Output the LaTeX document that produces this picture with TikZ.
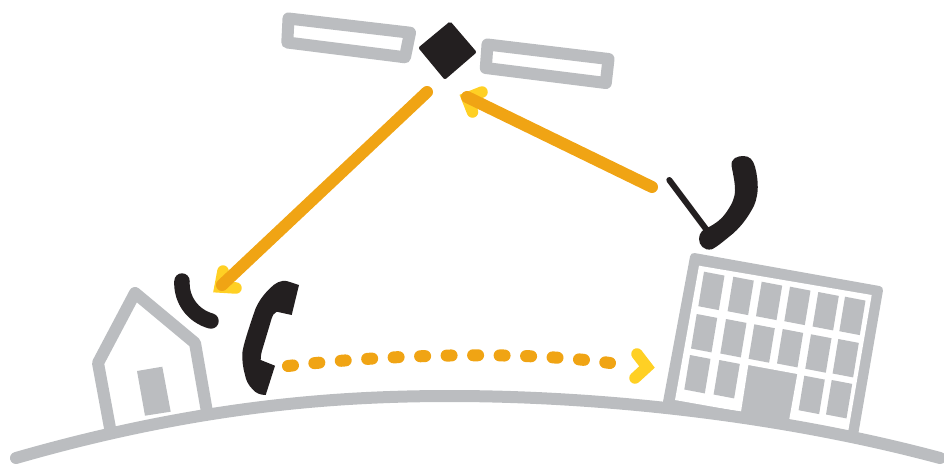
\documentclass[tikz,border=0pt]{standalone}
\usepackage{tikz}

\begin{document}
\begin{tikzpicture}[x=1pt, y=-1pt, line cap=round, line join=round,
		% Styles
		ground line/.style={line width=12pt, draw=greycolor},
		panel/.style={line width=12pt, draw=greycolor, fill=white},
		wave/.style={line width=15.5pt, draw=inkcolor},
		signal/.style={line width=12pt, draw=signalcolor},
		signal head/.style={line width=11.5pt, draw=headcolor, line join=miter},
		window/.style={fill=greycolor}
		]
		
		% Colors
		\definecolor{greycolor}{HTML}{BBBDC0}
		\definecolor{inkcolor}{HTML}{231F20}
		\definecolor{signalcolor}{HTML}{F0A414}
		\definecolor{headcolor}{HTML}{FFD024}
		
		\useasboundingbox (0, 0) rectangle (944, 463);
		
		% Building
		\filldraw[greycolor, line width=8pt] (694, 257) -- (879, 290) -- (854, 435) -- (667, 402) -- cycle;
		\fill[white] (699, 265.7) -- (871.7, 295) -- (848.3, 430.7) -- (789, 420.7) -- (797.3, 374) -- (748.3, 365) -- (741, 411.7) -- (675, 400) -- cycle;
		\foreach \x/\y in {704/271.7, 733.3/276.7, 761.7/281.7, 790/286.7, 818.3/292, 845/296.7,
				696.7/314, 726/319, 754.3/324.3, 782.7/329, 811/334.3, 838.3/339,
				690/355, 719.3/360, 804.3/375.7, 831.7/380}
			\fill[window] (\x, \y) -- ++(20.5, 3.9) -- ++(-5.7, 34.5) -- ++(-20.5, -3.9) -- cycle;
		
		% House
		\draw[greycolor, line width=12pt] (110, 428) -- (98, 363) -- (135, 293) -- (195, 343) -- (207, 412);
		\fill[greycolor] (137, 371) -- (162.3, 366.7) -- (170.7, 411.7) -- (145, 415.7) -- cycle;
		
		% Ground
		\draw[ground line] (16, 458) .. controls (200, 405) and (340, 396) .. (450, 396)
			.. controls (600, 396) and (780, 415) .. (940, 458);
		
		% Satellite
		\draw[panel] (288.5, 18.5) -- (410, 32.7) -- (405, 57.3) -- (287.3, 42.5) -- cycle;
		\draw[panel] (487.5, 44.5) -- (608.5, 59) -- (605.8, 83) -- (485.8, 68) -- cycle;
		\filldraw[inkcolor, line width=4pt] (450, 24) -- (474, 52) -- (445, 77) -- (421, 48) -- cycle;
		
		% Dish
		\draw[inkcolor, line width=6pt] (669.3, 180) -- (706.7, 230);
		\fill[inkcolor] (731.7, 166.7) .. controls (730, 158) and (738, 156) .. (743.3, 156)
			.. controls (750, 156) and (753, 160) .. (755, 166.7)
			.. controls (757, 174) and (758, 182) .. (757.7, 190)
			.. controls (757, 198) and (755, 205) .. (751.7, 210)
			.. controls (745, 222) and (738, 229) .. (733.3, 233.3)
			.. controls (725, 240) and (717, 247) .. (711.7, 249.3)
			.. controls (704, 251) and (699, 245) .. (699, 239)
			.. controls (699, 233) and (703, 229) .. (708.3, 227.3)
			.. controls (715, 224) and (722, 219) .. (726.7, 211.7)
			.. controls (732, 204) and (735, 198) .. (735, 190)
			.. controls (735, 182) and (733, 174) .. (731.7, 166.7) -- cycle;
		
		% Wave over the house
		\draw[wave] (182, 281) .. controls (181, 300) and (193, 316) .. (211, 321);
		
		% Telephone
		\fill[inkcolor] (286.7, 281) -- (299, 285) -- (291.7, 315) -- (276.7, 311.7)
			.. controls (274, 313) and (272, 316) .. (271.7, 318.3) -- (261.7, 351.7)
			.. controls (261, 355) and (260.7, 357) .. (260.7, 360) -- (275, 365.7) -- (265.7, 395)
			.. controls (260, 395) and (256, 393) .. (253.3, 390)
			.. controls (248, 385) and (246, 380) .. (245, 375)
			.. controls (243, 368) and (242, 360) .. (242.3, 353.3)
			.. controls (243, 345) and (250, 325) .. (255, 310)
			.. controls (258, 302) and (264, 294) .. (270, 288.3)
			.. controls (275, 283) and (281, 280) .. (286.7, 281) -- cycle;
		
		% Signal path
		\coordinate (sat out) at (427, 92);
		\coordinate (house in) at (222, 285);
		\coordinate (dish out) at (652, 187);
		\coordinate (sat in) at (467, 97);
		\coordinate (phone out) at (288, 366);
		\coordinate (office in) at (610, 363);
		
		\draw[signal head] (223, 271) -- (220, 287) -- (236, 288);
		\draw[signal] (sat out) -- (house in);
		\draw[signal head] (482, 92) -- (467, 98) -- (472.5, 112);
		\draw[signal] (dish out) -- (sat in);
		
		% Phone call
		\draw[signal, dash pattern=on 5pt off 21.5pt] (phone out) .. controls (380, 355) and (520, 350) .. (office in);
		\draw[signal head] (637, 354) -- (647, 367) -- (635, 378);
		
	\end{tikzpicture}
\end{document}
